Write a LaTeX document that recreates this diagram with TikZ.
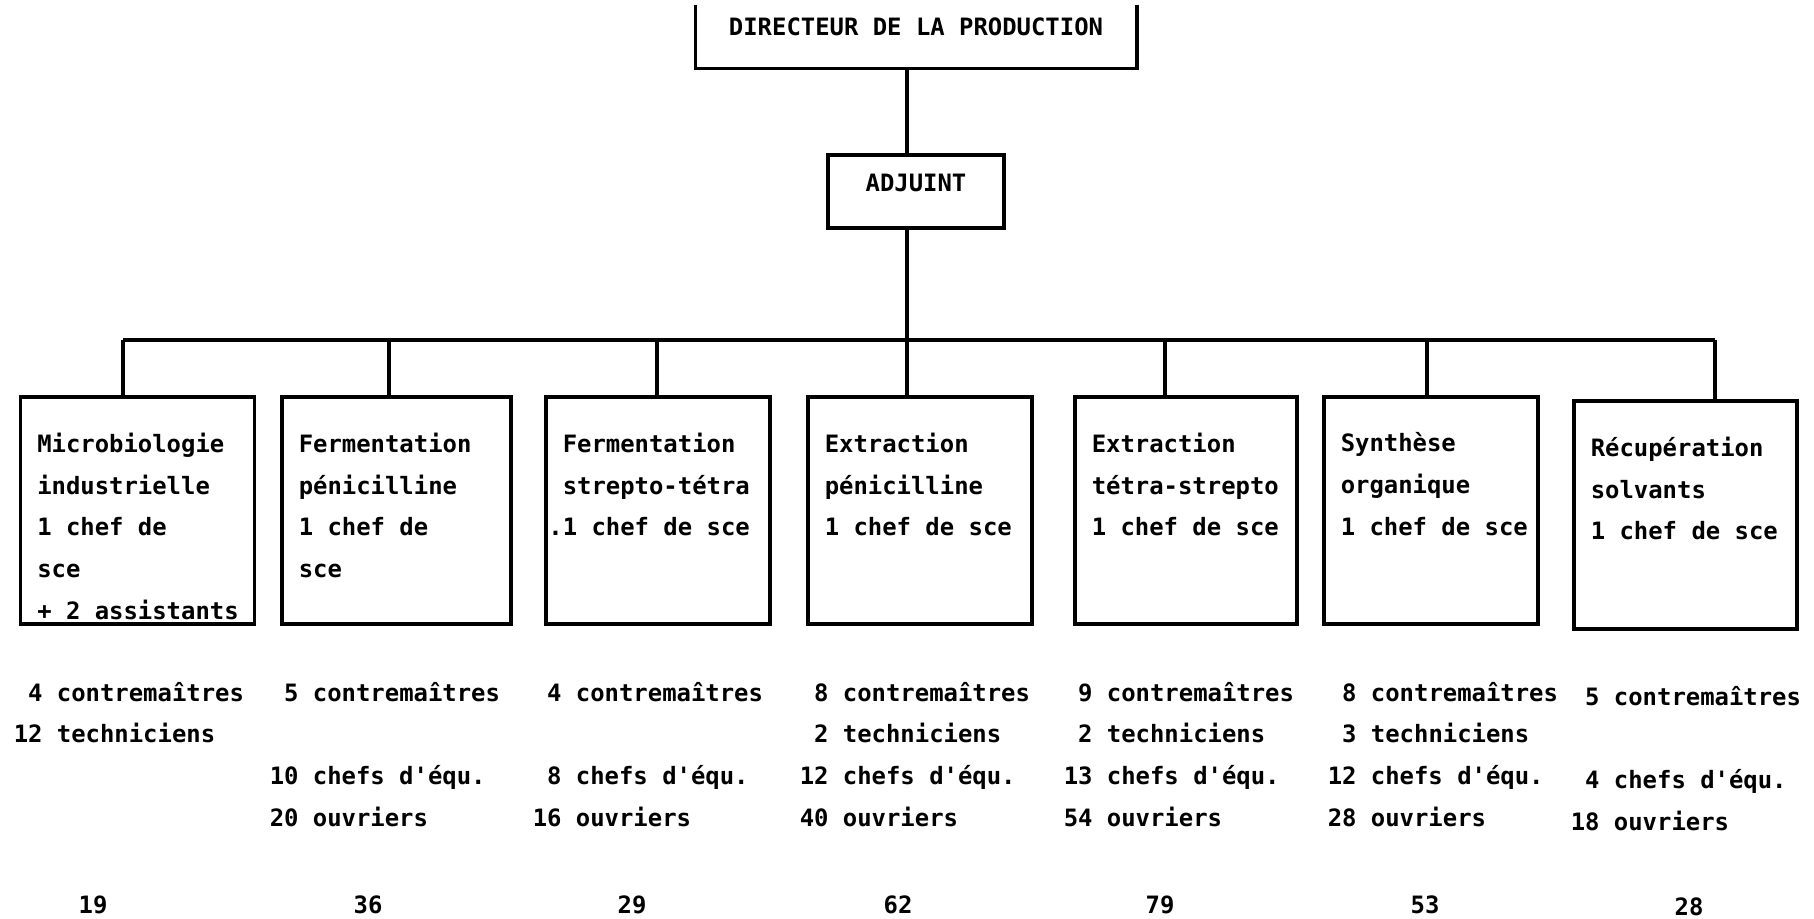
\documentclass[tikz,border=0pt]{standalone}
\usepackage{fontspec}
\setmonofont{DejaVu Sans Mono}
\usetikzlibrary{positioning}

\newcommand{\orgfont}{\ttfamily\bfseries\fontsize{6.8}{11.9}\selectfont}
% texte d'un service : largeur, hauteur, lignes (pas de coupure)
\newcommand{\svctext}[3]{\parbox[t][#2][t]{#1}{\orgfont\hyphenpenalty=10000 \exhyphenpenalty=10000 #3}}
\newcommand{\stafftext}[1]{\parbox[t]{3cm}{\orgfont #1}}
\newcommand{\pd}{\phantom{1}}

\tikzset{
  service/.style={draw, anchor=north west, inner xsep=0.17cm, inner ysep=0.36cm},
  staff/.style={anchor=base west, inner sep=0pt},
  total/.style={anchor=base, inner sep=0pt}
}

\begin{document}
\begin{tikzpicture}[line width=1pt, every node/.style={font=\orgfont}]
  \useasboundingbox (0,0) rectangle (18.14,-9.18);

  % --- direction ---
  \node[minimum width=4.38cm, minimum height=0.47cm, text depth=0.19cm] (dir) at (9.16,-0.365) {DIRECTEUR DE LA PRODUCTION};
  \draw (dir.north west) -- (dir.south west) -- (dir.south east) -- (dir.north east);
  \node[draw, minimum width=1.76cm, minimum height=0.73cm, text depth=0.17cm] (adj) at (9.16,-1.915) {ADJUINT};

  % --- services ---
  \node[service] (micro) at (0.185,-3.95) {\svctext{2.00cm}{1.55cm}{Microbiologie\\industrielle\\1~chef~de\\sce\\+~2~assistants}};
  \node[service] (fermpen) at (2.80,-3.95) {\svctext{1.95cm}{1.55cm}{Fermentation\\pénicilline\\1~chef~de\\sce}};
  \node[service] (fermstr) at (5.44,-3.95) {\svctext{1.90cm}{1.55cm}{Fermentation\\strepto-tétra\\\llap{.}1~chef~de~sce}};
  \node[service] (extpen) at (8.06,-3.95) {\svctext{1.90cm}{1.55cm}{Extraction\\pénicilline\\1~chef~de~sce}};
  \node[service] (extstr) at (10.73,-3.95) {\svctext{1.88cm}{1.55cm}{Extraction\\tétra-strepto\\1~chef~de~sce}};
  \node[service] (synth) at (13.22,-3.95) {\svctext{1.80cm}{1.55cm}{Synthèse\\organique\\1~chef~de~sce}};
  \node[service] (recup) at (15.72,-3.99) {\svctext{1.89cm}{1.56cm}{Récupération\\solvants\\1~chef~de~sce}};

  % --- liaisons ---
  \draw ([xshift=-0.09cm]dir.south) -- ([xshift=-0.09cm]adj.north);
  \coordinate (stem) at ([xshift=-0.09cm]adj.south);
  \coordinate (busL) at (1.23,-3.40);
  \coordinate (busR) at (17.15,-3.40);
  \draw (stem) -- (stem |- busL);
  \draw (busL) -- (busR);
  \foreach \b/\x in {micro/1.23, fermpen/3.89, fermstr/6.57, extpen/9.07, extstr/11.65, synth/14.27, recup/17.15} {
    \coordinate (d\b) at (\x,-3.40);
    \draw (d\b) -- (d\b |- \b.north);
  }

  % --- effectifs ---
  \node[staff] (s1) at (0.12,-7.01) {\stafftext{\pd4 contremaîtres\\12 techniciens}};
  \node[staff] (s2) at (2.68,-7.01) {\stafftext{\pd5 contremaîtres\\\mbox{}\\10 chefs d'équ.\\20 ouvriers}};
  \node[staff] (s3) at (5.31,-7.01) {\stafftext{\pd4 contremaîtres\\\mbox{}\\\pd8 chefs d'équ.\\16 ouvriers}};
  \node[staff] (s4) at (7.98,-7.01) {\stafftext{\pd8 contremaîtres\\\pd2 techniciens\\12 chefs d'équ.\\40 ouvriers}};
  \node[staff] (s5) at (10.62,-7.01) {\stafftext{\pd9 contremaîtres\\\pd2 techniciens\\13 chefs d'équ.\\54 ouvriers}};
  \node[staff] (s6) at (13.26,-7.01) {\stafftext{\pd8 contremaîtres\\\pd3 techniciens\\12 chefs d'équ.\\28 ouvriers}};
  \node[staff] (s7) at (15.69,-7.05) {\stafftext{\pd5 contremaîtres\\\mbox{}\\\pd4 chefs d'équ.\\18 ouvriers}};

  % --- totaux ---
  \node[total] (t1) at (0.93,-9.13) {19};
  \node[total] (t2) at (3.68,-9.13) {36};
  \node[total] (t3) at (6.32,-9.13) {29};
  \node[total] (t4) at (8.98,-9.13) {62};
  \node[total] (t5) at (11.60,-9.13) {79};
  \node[total] (t6) at (14.25,-9.13) {53};
  \node[total] (t7) at (16.89,-9.15) {28};
\end{tikzpicture}
\end{document}
